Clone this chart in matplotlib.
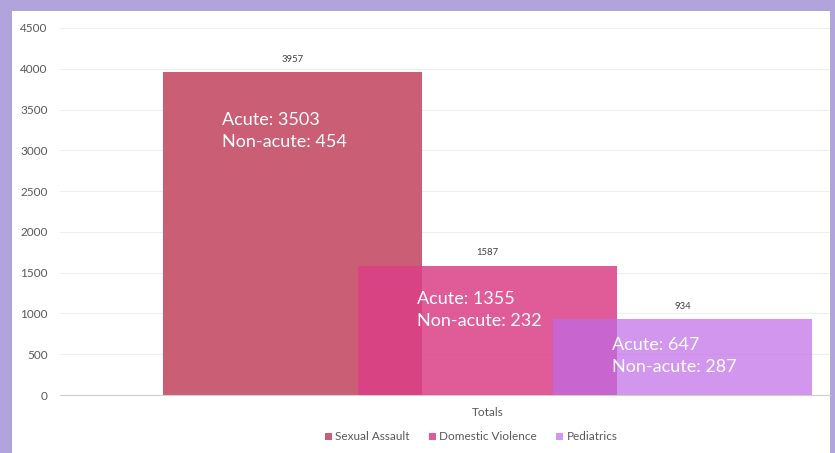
"""
Overlapping case totals bar chart
"""
import matplotlib
matplotlib.use('Agg')
import matplotlib.pyplot as plt
from matplotlib.patches import Rectangle

# data
categories = ['Sexual Assault', 'Domestic Violence', 'Pediatrics']
totals = [3957, 1587, 934]
acute = [3503, 1355, 647]
non_acute = [454, 232, 287]
yticks = [0, 500, 1000, 1500, 2000, 2500, 3000, 3500, 4000, 4500]

# styling
colors = ['#c95e75', '#db3f87', '#bf6ae7']
alphas = [1.0, 0.85, 0.7]
label_y = [3240, 1040, 480]   # where the acute/non-acute notes sit
step = 0.753                  # bars overlap each other
border = '#b1a4dd'

plt.rcParams['font.family'] = ['Lato', 'DejaVu Sans']

fig = plt.figure(figsize=(8.35, 4.53), dpi=100, facecolor=border)
fig.patches.append(Rectangle((12 / 835, 0), 818 / 835, 442 / 453,
                             transform=fig.transFigure, facecolor='white',
                             edgecolor='none', zorder=-5))

ax = fig.add_axes([60 / 835, 58 / 453, 770 / 835, 367 / 453])
ax.set_facecolor('none')

lefts = [i * step for i in range(len(categories))]
for i, cat in enumerate(categories):
    ax.bar(lefts[i], totals[i], width=1.0, align='edge', color=colors[i],
           alpha=alphas[i], label=cat, zorder=2 + i)
    ax.text(lefts[i] + 0.5, totals[i] + 100, str(totals[i]), ha='center',
            va='bottom', fontsize=6.8, color='#404040', zorder=10)
    ax.text(lefts[i] + 0.228, label_y[i],
            f'Acute: {acute[i]}\nNon-acute: {non_acute[i]}',
            ha='left', va='center', fontsize=13, color='white',
            linespacing=1.5, zorder=10)

ax.set_xlim(-0.398, 2.575)
ax.set_ylim(0, 4500)
ax.set_yticks(yticks)
ax.set_yticklabels([str(v) for v in yticks], fontsize=8.5, color='#595959')
ax.set_xticks([(lefts[0] + lefts[-1] + 1) / 2])
ax.set_xticklabels(['Totals'], fontsize=8.5, color='#595959')
ax.tick_params(length=0, pad=9)
ax.tick_params(axis='x', pad=9)

ax.grid(axis='y', color='#efefef', linewidth=0.8, zorder=0)
for s in ['top', 'right', 'left']:
    ax.spines[s].set_visible(False)
ax.spines['bottom'].set_color('#cfcfcf')
ax.spines['bottom'].set_linewidth(0.8)

leg = fig.legend(loc='center', bbox_to_anchor=(471 / 835, 16 / 453), ncol=3,
                 frameon=False, fontsize=8.5, handlelength=0.6,
                 handleheight=0.6, handletextpad=0.3, columnspacing=1.6)
for t in leg.get_texts():
    t.set_color('#595959')

fig.savefig('out.png', dpi=100, facecolor=border)
